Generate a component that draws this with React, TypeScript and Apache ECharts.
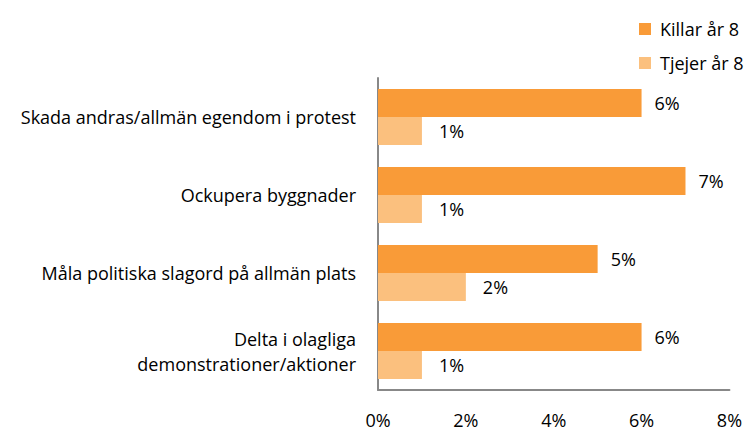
import React, { useEffect, useRef } from "react";
import * as echarts from "echarts";

const categories = [
  "Skada andras/allmän egendom i protest",
  "Ockupera byggnader",
  "Måla politiska slagord på allmän plats",
  "Delta i olagliga\ndemonstrationer/aktioner",
];
const seriesNames = ["Killar år 8", "Tjejer år 8"];
const killar = [6, 7, 5, 6];
const tjejer = [1, 1, 2, 1];
const xTicks = [0, 2, 4, 6, 8];

const FONT = "'Open Sans', 'Liberation Sans', sans-serif";
const FS = 18;

export default function App() {
  const ref = useRef<HTMLDivElement>(null);
  useEffect(() => {
    if (!ref.current) return;
    const chart = echarts.init(ref.current, null, { renderer: "svg" });
    chart.setOption({
      animation: false,
      backgroundColor: "#ffffff",
      textStyle: { fontFamily: FONT },
      legend: {
        orient: "vertical",
        left: 634,
        top: 14,
        itemWidth: 12,
        itemHeight: 12,
        itemGap: 14,
        icon: "rect",
        textStyle: {
          fontSize: FS,
          lineHeight: 20,
          color: "#000",
          fontFamily: FONT,
          padding: [0, 0, 0, 4],
        },
        data: seriesNames,
      },
      grid: { left: 378, right: 15, top: 78, bottom: 46, containLabel: false },
      xAxis: {
        type: "value",
        min: xTicks[0],
        max: xTicks[xTicks.length - 1],
        interval: 2,
        axisLine: { show: true, lineStyle: { color: "#888", width: 2 } },
        axisTick: { show: false },
        splitLine: { show: false },
        axisLabel: {
          margin: 21,
          fontSize: FS,
          color: "#000",
          fontFamily: FONT,
          formatter: (v: number) => v + "%",
        },
      },
      yAxis: {
        type: "category",
        data: categories,
        inverse: true,
        axisLine: { show: true, lineStyle: { color: "#888", width: 2 } },
        axisTick: { show: false },
        axisLabel: {
          margin: 22,
          fontSize: FS,
          lineHeight: 25,
          color: "#000",
          fontFamily: FONT,
          align: "right",
        },
      },
      series: [
        {
          name: seriesNames[0],
          type: "bar",
          data: killar,
          barGap: "0%",
          barCategoryGap: "28%",
          itemStyle: { color: "#F99B38" },
          label: {
            show: true,
            position: "right",
            distance: 13,
            fontSize: FS,
            color: "#000",
            fontFamily: FONT,
            formatter: (p: any) => p.value + "%",
          },
        },
        {
          name: seriesNames[1],
          type: "bar",
          data: tjejer,
          barGap: "0%",
          barCategoryGap: "28%",
          itemStyle: { color: "#FBC07E" },
          label: {
            show: true,
            position: "right",
            distance: 17,
            fontSize: FS,
            color: "#000",
            fontFamily: FONT,
            formatter: (p: any) => p.value + "%",
          },
        },
      ],
    });
    return () => chart.dispose();
  }, []);
  return (
    <div
      ref={ref}
      style={{ position: "absolute", left: 0, top: 0, width: 745, height: 436 }}
    />
  );
}
